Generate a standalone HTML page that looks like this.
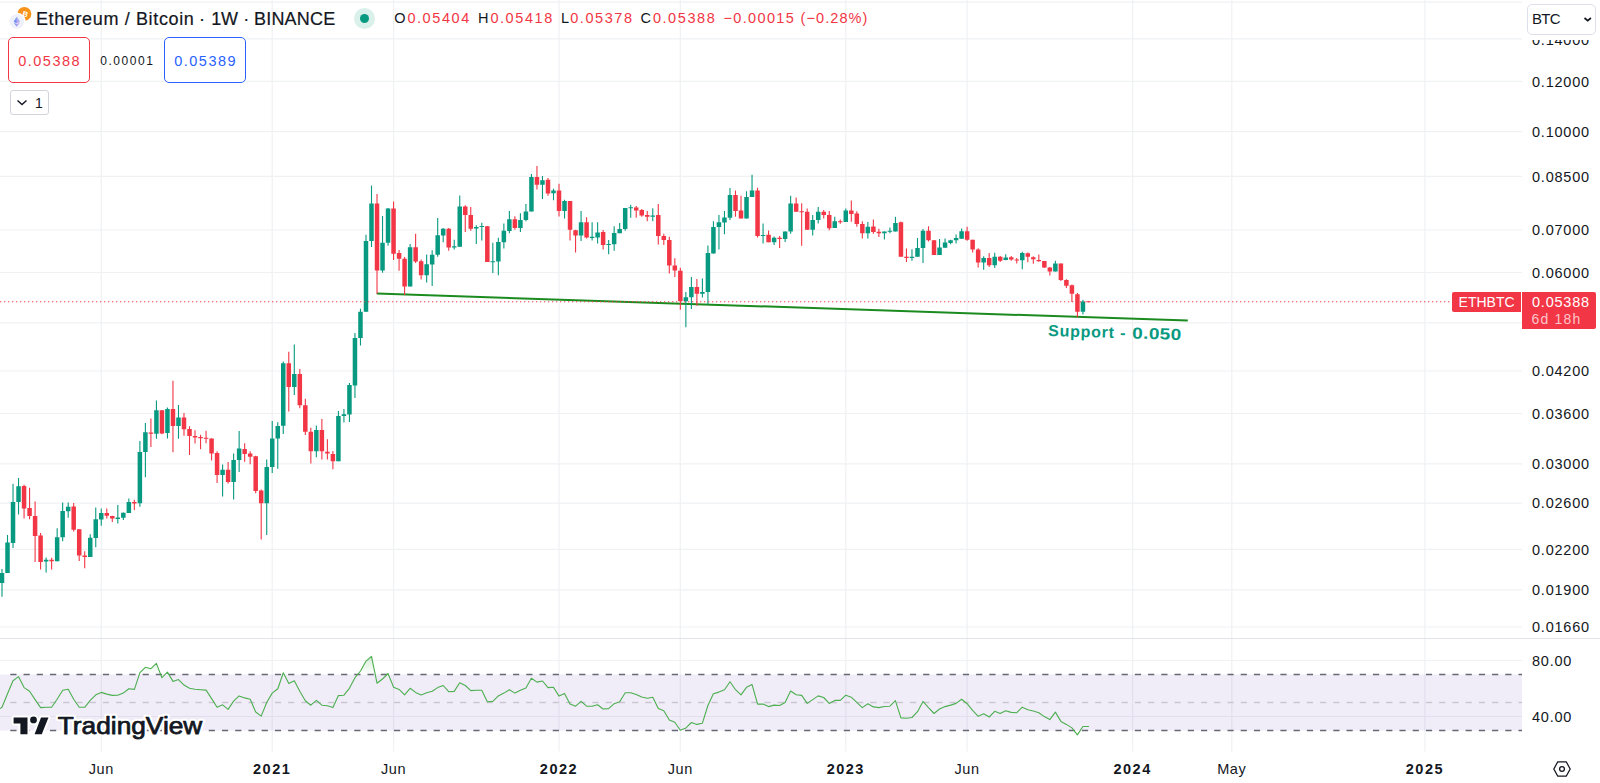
<!DOCTYPE html>
<html lang="en"><head><meta charset="utf-8"><title>ETHBTC chart</title>
<style>
html,body{margin:0;padding:0;background:#fff;}
body{width:1600px;height:783px;position:relative;overflow:hidden;font-family:"Liberation Sans",sans-serif;color:#131722;}
#chart{position:absolute;left:0;top:0;}
.abs{position:absolute;white-space:nowrap;}
.pl{position:absolute;left:1532px;font-size:14.5px;line-height:16px;height:16px;letter-spacing:0.77px;color:#131722;}
.tl{position:absolute;top:761.4px;font-size:14.5px;line-height:16px;height:16px;transform:translateX(-50%);letter-spacing:0.6px;color:#131722;}
.tl.b{font-weight:bold;letter-spacing:1.5px;}
</style></head><body>

<svg id="chart" width="1600" height="783" viewBox="0 0 1600 783">
<path d="M0 2.1H1522 M0 38.8H1522 M0 81.3H1522 M0 131.6H1522 M0 176.4H1522 M0 230.0H1522 M0 272.5H1522 M0 322.8H1522 M0 371.0H1522 M0 413.5H1522 M0 463.8H1522 M0 503.2H1522 M0 549.3H1522 M0 589.8H1522 M0 627.0H1522 M0 660.5H1522 M0 716.5H1522 M101.3 0V751.5 M272.2 0V751.5 M393.6 0V751.5 M559.0 0V751.5 M680.3 0V751.5 M845.8 0V751.5 M967.1 0V751.5 M1132.6 0V751.5 M1231.8 0V751.5 M1424.9 0V751.5" stroke="#f0f1f3" stroke-width="1.2" fill="none"/>
<rect x="0" y="674.5" width="1522" height="56" fill="#7e57c2" fill-opacity="0.115"/>
<path d="M0 638.5H1600" stroke="#e0e3eb" stroke-width="1" fill="none"/>
<path d="M10.3 674.5H1522M10.3 730.5H1522" stroke="#666973" stroke-width="1.35" stroke-dasharray="6.2 7.03" fill="none"/>
<path d="M10.3 702.5H1522" stroke="#c9c6d2" stroke-width="1.5" stroke-dasharray="6.2 7.03" fill="none"/>
<path d="M376.8 293.5L1187.8 320.6" stroke="#1b8a1f" stroke-width="2" fill="none"/>
<path d="M2.00 569.0V596.7M7.51 535.1V573.0M13.03 483.8V547.9M18.54 477.9V514.5M46.12 557.4V572.6M57.15 528.3V561.3M62.66 502.5V541.3M68.18 502.5V517.7M90.24 534.2V557.1M95.75 507.4V547.2M101.27 508.6V525.8M117.81 505.0V523.4M123.33 512.4V519.9M128.84 498.4V512.9M139.88 441.1V506.7M145.39 423.1V477.2M156.42 400.4V438.8M167.45 407.5V438.5M178.48 404.9V438.8M222.60 464.4V496.5M233.63 453.6V499.6M239.14 431.1V471.9M266.72 459.4V534.9M272.23 420.9V473.1M277.75 422.2V468.7M283.26 361.5V434.0M294.29 344.5V394.9M316.35 425.4V457.2M338.41 411.0V461.3M343.93 408.9V422.6M349.44 382.9V421.9M354.96 332.9V398.1M360.47 308.8V345.4M365.99 234.7V311.8M371.50 185.6V246.9M382.53 215.9V272.8M388.05 207.9V245.8M410.11 244.0V286.5M426.65 254.4V282.6M432.17 250.3V286.0M437.69 218.1V256.7M443.20 227.9V242.2M454.23 239.7V249.5M459.74 195.4V246.7M476.29 225.2V244.0M481.80 222.7V240.4M492.83 242.7V273.1M498.35 237.7V275.3M503.86 223.4V248.6M509.38 211.1V233.3M520.41 213.3V232.0M525.92 204.0V221.3M531.44 173.9V211.5M542.47 176.1V199.0M553.50 188.8V200.2M564.53 199.8V218.6M581.07 210.9V240.9M592.11 222.2V240.6M597.62 222.2V243.6M608.65 240.0V254.3M614.16 226.3V250.8M619.68 223.1V233.3M625.19 207.9V230.8M630.71 204.8V217.7M652.77 208.2V221.3M685.86 291.9V327.3M691.38 277.0V308.9M702.40 278.5V297.6M707.92 245.4V304.4M713.43 221.3V253.4M718.95 215.0V249.5M724.46 210.9V234.2M729.98 188.1V219.9M746.52 191.3V218.6M752.04 174.8V197.0M763.07 223.4V243.6M774.10 236.5V244.9M785.13 231.5V241.9M790.64 195.7V233.8M812.70 215.0V235.6M818.22 207.0V223.4M834.76 216.7V227.9M845.79 208.6V222.0M867.85 222.0V238.6M884.40 231.5V239.5M889.91 227.6V233.3M895.43 216.7V231.5M911.97 249.2V260.8M917.49 238.1V256.8M923.00 229.1V263.1M939.55 239.0V255.0M945.06 238.4V247.7M950.58 239.7V244.3M956.09 234.5V243.4M961.61 228.6V238.8M983.67 256.3V269.7M994.70 252.7V267.9M1005.73 254.2V260.2M1022.27 251.8V269.3M1055.37 260.8V271.5M1082.94 299.7V314.4" stroke="#089981" stroke-width="1.1" fill="none"/>
<path d="M24.06 484.7V518.6M29.57 487.7V519.3M35.09 501.5V561.9M40.60 532.9V569.4M51.63 557.8V569.4M73.69 502.9V531.5M79.21 529.3V561.0M84.72 551.2V568.3M106.78 508.6V518.6M112.30 515.8V522.0M134.36 499.7V510.0M150.91 418.6V446.9M161.94 410.2V434.3M172.97 380.7V452.2M183.99 412.9V435.8M189.51 426.3V454.9M195.02 430.2V443.6M200.54 434.7V449.2M206.05 430.8V443.3M211.57 438.5V460.6M217.08 451.3V483.1M228.11 462.0V483.5M244.66 443.3V461.7M250.17 451.3V464.2M255.69 455.8V493.3M261.20 489.4V539.4M288.78 351.7V411.5M299.81 369.0V408.3M305.32 398.7V435.0M310.84 427.7V463.4M321.87 419.1V459.5M327.38 439.3V459.5M332.90 450.9V469.2M377.02 194.0V293.7M393.56 201.6V260.1M399.08 249.9V270.8M404.59 257.0V294.9M415.62 233.8V262.9M421.14 259.4V279.4M448.71 227.9V250.8M465.26 205.2V232.0M470.77 207.0V230.8M487.32 226.1V262.1M514.89 216.3V229.7M536.95 165.9V189.5M547.99 177.9V195.7M559.01 183.8V216.5M570.04 201.1V240.6M575.56 229.7V252.6M586.59 217.2V238.6M603.13 229.9V249.5M636.22 206.1V217.7M641.74 209.1V216.8M647.25 211.1V221.3M658.28 203.9V244.5M663.80 233.8V244.9M669.31 236.8V273.5M674.83 258.3V277.0M680.34 267.7V309.7M696.89 279.0V305.8M735.50 190.4V216.8M741.01 195.7V218.6M757.55 187.7V237.4M768.58 230.6V242.2M779.62 236.0V248.1M796.16 197.5V211.8M801.67 203.3V245.8M807.19 208.6V229.7M823.73 210.0V218.6M829.25 210.9V230.2M840.28 219.5V223.8M851.31 200.6V221.7M856.82 211.3V226.7M862.34 221.3V238.6M873.37 219.5V233.8M878.88 228.8V236.9M900.94 221.4V256.8M906.46 248.6V262.0M928.52 226.3V241.6M934.03 239.9V255.0M967.12 226.8V240.8M972.64 239.7V252.4M978.15 248.3V267.6M989.18 253.1V267.0M1000.21 255.9V262.0M1011.24 255.9V260.8M1016.76 258.1V263.4M1027.79 252.4V262.2M1033.30 256.3V263.8M1038.82 254.5V261.7M1044.34 261.1V267.9M1049.85 267.0V275.4M1060.88 263.4V281.0M1066.39 279.2V287.9M1071.91 284.4V301.9M1077.42 292.9V317.4M1088.45 301.2V301.9" stroke="#f23645" stroke-width="1.1" fill="none"/>
<path d="M-0.25 573.0h4.5V583.0h-4.5zM5.26 542.6h4.5V573.0h-4.5zM10.78 502.0h4.5V543.1h-4.5zM16.29 486.3h4.5V502.0h-4.5zM43.87 559.7h4.5V561.5h-4.5zM54.90 537.2h4.5V561.3h-4.5zM60.41 510.9h4.5V537.2h-4.5zM65.93 506.8h4.5V511.3h-4.5zM87.99 537.7h4.5V557.1h-4.5zM93.50 519.3h4.5V538.1h-4.5zM99.02 513.1h4.5V519.5h-4.5zM115.56 517.6h4.5V519.0h-4.5zM121.08 512.7h4.5V517.7h-4.5zM126.59 502.0h4.5V512.9h-4.5zM137.62 451.9h4.5V503.2h-4.5zM143.14 432.2h4.5V451.9h-4.5zM154.17 410.2h4.5V433.8h-4.5zM165.20 409.0h4.5V432.9h-4.5zM176.23 417.5h4.5V425.9h-4.5zM220.35 469.7h4.5V474.9h-4.5zM231.38 459.9h4.5V482.1h-4.5zM236.89 448.6h4.5V459.9h-4.5zM264.47 467.1h4.5V503.2h-4.5zM269.98 438.5h4.5V467.1h-4.5zM275.50 425.9h4.5V438.5h-4.5zM281.01 363.3h4.5V425.8h-4.5zM292.04 374.0h4.5V386.9h-4.5zM314.10 430.0h4.5V451.3h-4.5zM336.16 416.0h4.5V461.3h-4.5zM341.68 414.2h4.5V416.0h-4.5zM347.19 385.1h4.5V414.6h-4.5zM352.71 337.9h4.5V385.6h-4.5zM358.22 311.8h4.5V337.9h-4.5zM363.74 241.0h4.5V311.8h-4.5zM369.25 203.4h4.5V241.0h-4.5zM380.28 242.7h4.5V270.5h-4.5zM385.80 208.4h4.5V242.7h-4.5zM407.86 247.2h4.5V286.5h-4.5zM424.40 264.2h4.5V275.3h-4.5zM429.92 254.7h4.5V264.6h-4.5zM435.44 235.2h4.5V254.7h-4.5zM440.95 228.8h4.5V235.6h-4.5zM451.98 246.3h4.5V247.6h-4.5zM457.49 206.5h4.5V246.7h-4.5zM474.04 227.0h4.5V228.4h-4.5zM479.55 226.1h4.5V227.1h-4.5zM490.58 261.2h4.5V262.2h-4.5zM496.10 241.9h4.5V261.5h-4.5zM501.61 230.8h4.5V242.2h-4.5zM507.13 219.2h4.5V231.1h-4.5zM518.16 219.9h4.5V227.9h-4.5zM523.67 211.5h4.5V220.0h-4.5zM529.19 177.0h4.5V211.5h-4.5zM540.22 180.2h4.5V184.7h-4.5zM551.25 190.6h4.5V193.2h-4.5zM562.28 201.1h4.5V210.9h-4.5zM578.82 222.2h4.5V235.6h-4.5zM589.86 236.8h4.5V237.9h-4.5zM595.37 232.5h4.5V237.4h-4.5zM606.40 244.0h4.5V245.0h-4.5zM611.91 232.9h4.5V244.2h-4.5zM617.43 229.0h4.5V233.3h-4.5zM622.94 207.9h4.5V229.0h-4.5zM628.46 207.3h4.5V208.3h-4.5zM650.52 215.4h4.5V216.8h-4.5zM683.61 297.2h4.5V301.2h-4.5zM689.12 287.1h4.5V297.2h-4.5zM700.15 291.9h4.5V293.7h-4.5zM705.67 253.1h4.5V291.9h-4.5zM711.18 227.0h4.5V253.4h-4.5zM716.70 222.2h4.5V227.0h-4.5zM722.21 217.6h4.5V222.6h-4.5zM727.73 194.9h4.5V217.7h-4.5zM744.27 197.0h4.5V218.6h-4.5zM749.79 190.4h4.5V197.0h-4.5zM760.82 235.1h4.5V236.1h-4.5zM771.85 237.7h4.5V242.2h-4.5zM782.88 231.5h4.5V239.0h-4.5zM788.39 203.4h4.5V231.5h-4.5zM810.45 219.9h4.5V229.7h-4.5zM815.97 211.8h4.5V219.9h-4.5zM832.51 221.3h4.5V227.9h-4.5zM843.54 210.4h4.5V222.0h-4.5zM865.60 226.7h4.5V233.3h-4.5zM882.15 231.5h4.5V233.3h-4.5zM887.66 230.8h4.5V231.8h-4.5zM893.18 222.9h4.5V231.5h-4.5zM909.72 256.8h4.5V258.1h-4.5zM915.24 247.9h4.5V256.8h-4.5zM920.75 230.7h4.5V247.9h-4.5zM937.30 247.4h4.5V255.0h-4.5zM942.81 242.5h4.5V247.7h-4.5zM948.33 240.2h4.5V242.9h-4.5zM953.84 238.1h4.5V240.2h-4.5zM959.36 231.3h4.5V238.8h-4.5zM981.42 258.1h4.5V262.6h-4.5zM992.45 256.8h4.5V265.2h-4.5zM1003.48 257.6h4.5V259.9h-4.5zM1020.02 253.1h4.5V260.2h-4.5zM1053.12 263.4h4.5V271.5h-4.5zM1080.69 301.5h4.5V311.7h-4.5z" fill="#089981"/>
<path d="M21.81 485.9h4.5V508.6h-4.5zM27.32 507.9h4.5V515.9h-4.5zM32.84 515.9h4.5V536.0h-4.5zM38.35 535.4h4.5V561.9h-4.5zM49.38 559.7h4.5V561.2h-4.5zM71.44 506.5h4.5V529.7h-4.5zM76.96 529.3h4.5V555.6h-4.5zM82.47 555.6h4.5V557.1h-4.5zM104.53 513.1h4.5V515.8h-4.5zM110.05 516.1h4.5V518.6h-4.5zM132.11 502.0h4.5V503.4h-4.5zM148.66 432.6h4.5V433.8h-4.5zM159.69 410.2h4.5V433.4h-4.5zM170.72 409.0h4.5V425.9h-4.5zM181.74 417.5h4.5V429.3h-4.5zM187.26 429.0h4.5V436.1h-4.5zM192.77 436.1h4.5V437.4h-4.5zM198.29 437.0h4.5V438.3h-4.5zM203.80 437.7h4.5V438.8h-4.5zM209.32 438.5h4.5V453.6h-4.5zM214.83 453.1h4.5V475.1h-4.5zM225.86 469.7h4.5V482.1h-4.5zM242.41 449.0h4.5V454.0h-4.5zM247.92 453.6h4.5V456.7h-4.5zM253.44 456.3h4.5V491.0h-4.5zM258.95 490.6h4.5V503.2h-4.5zM286.53 363.3h4.5V386.9h-4.5zM297.56 374.0h4.5V405.3h-4.5zM303.07 405.3h4.5V431.8h-4.5zM308.59 431.8h4.5V451.3h-4.5zM319.62 430.0h4.5V451.3h-4.5zM325.13 451.8h4.5V453.6h-4.5zM330.65 454.0h4.5V461.3h-4.5zM374.77 203.4h4.5V270.5h-4.5zM391.31 208.4h4.5V253.8h-4.5zM396.83 253.1h4.5V258.8h-4.5zM402.34 258.8h4.5V286.5h-4.5zM413.38 247.2h4.5V261.5h-4.5zM418.89 261.2h4.5V275.3h-4.5zM446.46 228.8h4.5V247.6h-4.5zM463.01 206.5h4.5V215.0h-4.5zM468.52 215.0h4.5V228.8h-4.5zM485.07 226.3h4.5V262.1h-4.5zM512.64 219.2h4.5V227.9h-4.5zM534.70 177.0h4.5V184.7h-4.5zM545.74 179.8h4.5V193.6h-4.5zM556.76 190.6h4.5V211.1h-4.5zM567.79 201.1h4.5V229.7h-4.5zM573.31 230.2h4.5V235.6h-4.5zM584.34 222.2h4.5V237.4h-4.5zM600.88 232.0h4.5V244.9h-4.5zM633.97 207.5h4.5V210.6h-4.5zM639.49 210.0h4.5V215.6h-4.5zM645.00 215.0h4.5V216.8h-4.5zM656.03 215.0h4.5V236.1h-4.5zM661.55 236.1h4.5V240.0h-4.5zM667.06 240.0h4.5V265.6h-4.5zM672.58 265.6h4.5V270.4h-4.5zM678.09 270.8h4.5V301.2h-4.5zM694.64 287.1h4.5V293.7h-4.5zM733.25 194.9h4.5V210.9h-4.5zM738.76 210.6h4.5V218.6h-4.5zM755.30 190.4h4.5V236.0h-4.5zM766.33 234.7h4.5V242.2h-4.5zM777.37 237.7h4.5V239.0h-4.5zM793.91 203.4h4.5V211.8h-4.5zM799.42 211.3h4.5V212.3h-4.5zM804.94 211.8h4.5V229.7h-4.5zM821.48 211.8h4.5V215.0h-4.5zM827.00 214.9h4.5V228.3h-4.5zM838.03 221.3h4.5V222.3h-4.5zM849.06 210.4h4.5V214.0h-4.5zM854.57 213.6h4.5V224.0h-4.5zM860.09 224.0h4.5V233.3h-4.5zM871.12 226.5h4.5V232.0h-4.5zM876.63 231.8h4.5V233.3h-4.5zM898.69 222.3h4.5V256.8h-4.5zM904.21 256.8h4.5V258.1h-4.5zM926.27 230.7h4.5V240.2h-4.5zM931.78 240.2h4.5V255.0h-4.5zM964.88 231.3h4.5V239.7h-4.5zM970.39 239.7h4.5V249.5h-4.5zM975.90 249.5h4.5V262.6h-4.5zM986.93 258.1h4.5V265.2h-4.5zM997.96 256.7h4.5V260.8h-4.5zM1008.99 257.2h4.5V259.5h-4.5zM1014.51 259.5h4.5V260.5h-4.5zM1025.54 253.3h4.5V256.8h-4.5zM1031.05 257.2h4.5V259.3h-4.5zM1036.57 259.9h4.5V261.3h-4.5zM1042.09 261.1h4.5V267.6h-4.5zM1047.60 267.4h4.5V271.5h-4.5zM1058.63 263.4h4.5V280.1h-4.5zM1064.14 279.9h4.5V285.8h-4.5zM1069.66 285.3h4.5V293.8h-4.5zM1075.17 294.2h4.5V311.7h-4.5zM1086.20 301.2h4.5V302.2h-4.5z" fill="#f23645"/>
<path d="M0 301.8H1452" stroke="#f23645" stroke-width="1" stroke-dasharray="1.3 2.7" fill="none"/>
<defs><linearGradient id="rg" gradientUnits="userSpaceOnUse" x1="0" y1="648" x2="0" y2="674.5"><stop offset="0" stop-color="#4caf50" stop-opacity="0.34"/><stop offset="1" stop-color="#4caf50" stop-opacity="0"/></linearGradient><clipPath id="rc"><rect x="0" y="640" width="1522" height="34.5"/></clipPath></defs>
<path d="M0.0 708.6L2.0 707.3L7.5 693.8L13.0 680.7L18.5 676.6L24.1 687.6L29.6 691.3L35.1 699.6L40.6 707.6L46.1 707.2L51.6 707.3L57.1 699.3L62.7 690.3L68.2 689.2L73.7 699.3L79.2 707.2L84.7 707.3L90.2 700.3L95.8 694.8L101.3 692.4L106.8 694.1L112.3 695.4L117.8 695.2L123.3 693.1L128.8 688.7L134.4 689.4L139.9 672.7L145.4 667.3L150.9 668.7L156.4 663.4L161.9 677.7L167.4 672.1L173.0 681.4L178.5 679.6L184.0 685.1L189.5 688.3L195.0 689.2L200.5 689.7L206.1 690.1L211.6 698.6L217.1 707.2L222.6 704.8L228.1 709.4L233.6 701.1L239.1 695.9L244.7 697.9L250.2 699.3L255.7 712.0L261.2 716.1L266.7 702.5L272.2 693.1L277.8 688.7L283.3 672.7L288.8 683.4L294.3 680.7L299.8 691.3L305.3 700.7L310.8 705.2L316.4 700.3L321.9 705.2L327.4 705.8L332.9 707.6L338.4 695.6L343.9 695.2L349.4 688.3L355.0 677.7L360.5 671.0L366.0 661.1L371.5 656.3L377.0 683.2L382.5 679.0L388.0 673.5L393.6 687.2L399.1 689.4L404.6 694.8L410.1 688.3L415.6 692.4L421.1 694.9L426.7 692.8L432.2 691.3L437.7 687.6L443.2 685.5L448.7 691.7L454.2 691.4L459.7 682.8L465.3 685.5L470.8 690.6L476.3 690.3L481.8 690.3L487.3 701.7L492.8 701.4L498.3 695.9L503.9 693.1L509.4 689.7L514.9 693.1L520.4 690.3L525.9 687.9L531.4 678.3L537.0 682.1L542.5 681.0L548.0 687.6L553.5 687.2L559.0 696.1L564.5 693.4L570.0 703.9L575.6 706.2L581.1 701.4L586.6 706.2L592.1 706.2L597.6 704.8L603.1 709.0L608.6 708.6L614.2 703.7L619.7 701.7L625.2 692.8L630.7 692.8L636.2 694.5L641.7 697.0L647.3 698.3L652.8 697.2L658.3 708.6L663.8 710.8L669.3 720.0L674.8 722.3L680.3 730.3L685.9 727.9L691.4 722.5L696.9 724.4L702.4 723.2L707.9 705.5L713.4 693.8L718.9 692.1L724.5 689.7L730.0 681.8L735.5 689.7L741.0 694.8L746.5 687.3L752.0 684.4L757.6 704.1L763.1 704.1L768.6 706.6L774.1 705.1L779.6 705.5L785.1 702.5L790.6 691.0L796.2 694.8L801.7 695.4L807.2 703.4L812.7 699.6L818.2 695.9L823.7 697.5L829.2 703.4L834.8 700.4L840.3 700.4L845.8 695.2L851.3 697.2L856.8 702.3L862.3 707.6L867.9 703.7L873.4 706.9L878.9 707.6L884.4 706.5L889.9 706.2L895.4 700.7L900.9 717.9L906.5 718.3L912.0 717.5L917.5 711.7L923.0 701.4L928.5 707.6L934.0 713.5L939.5 709.0L945.1 706.6L950.6 705.1L956.1 703.4L961.6 699.3L967.1 703.7L972.6 710.3L978.2 716.3L983.7 713.8L989.2 717.0L994.7 711.3L1000.2 713.4L1005.7 710.8L1011.2 712.4L1016.8 712.7L1022.3 707.2L1027.8 709.7L1033.3 711.0L1038.8 712.7L1044.3 716.6L1049.8 719.6L1055.4 712.1L1060.9 721.4L1066.4 724.4L1071.9 727.9L1077.4 734.9L1082.9 726.5L1088.5 726.5L1089.0 726.5V674.5H0z" fill="url(#rg)" clip-path="url(#rc)"/>
<path d="M0.0 708.6L2.0 707.3L7.5 693.8L13.0 680.7L18.5 676.6L24.1 687.6L29.6 691.3L35.1 699.6L40.6 707.6L46.1 707.2L51.6 707.3L57.1 699.3L62.7 690.3L68.2 689.2L73.7 699.3L79.2 707.2L84.7 707.3L90.2 700.3L95.8 694.8L101.3 692.4L106.8 694.1L112.3 695.4L117.8 695.2L123.3 693.1L128.8 688.7L134.4 689.4L139.9 672.7L145.4 667.3L150.9 668.7L156.4 663.4L161.9 677.7L167.4 672.1L173.0 681.4L178.5 679.6L184.0 685.1L189.5 688.3L195.0 689.2L200.5 689.7L206.1 690.1L211.6 698.6L217.1 707.2L222.6 704.8L228.1 709.4L233.6 701.1L239.1 695.9L244.7 697.9L250.2 699.3L255.7 712.0L261.2 716.1L266.7 702.5L272.2 693.1L277.8 688.7L283.3 672.7L288.8 683.4L294.3 680.7L299.8 691.3L305.3 700.7L310.8 705.2L316.4 700.3L321.9 705.2L327.4 705.8L332.9 707.6L338.4 695.6L343.9 695.2L349.4 688.3L355.0 677.7L360.5 671.0L366.0 661.1L371.5 656.3L377.0 683.2L382.5 679.0L388.0 673.5L393.6 687.2L399.1 689.4L404.6 694.8L410.1 688.3L415.6 692.4L421.1 694.9L426.7 692.8L432.2 691.3L437.7 687.6L443.2 685.5L448.7 691.7L454.2 691.4L459.7 682.8L465.3 685.5L470.8 690.6L476.3 690.3L481.8 690.3L487.3 701.7L492.8 701.4L498.3 695.9L503.9 693.1L509.4 689.7L514.9 693.1L520.4 690.3L525.9 687.9L531.4 678.3L537.0 682.1L542.5 681.0L548.0 687.6L553.5 687.2L559.0 696.1L564.5 693.4L570.0 703.9L575.6 706.2L581.1 701.4L586.6 706.2L592.1 706.2L597.6 704.8L603.1 709.0L608.6 708.6L614.2 703.7L619.7 701.7L625.2 692.8L630.7 692.8L636.2 694.5L641.7 697.0L647.3 698.3L652.8 697.2L658.3 708.6L663.8 710.8L669.3 720.0L674.8 722.3L680.3 730.3L685.9 727.9L691.4 722.5L696.9 724.4L702.4 723.2L707.9 705.5L713.4 693.8L718.9 692.1L724.5 689.7L730.0 681.8L735.5 689.7L741.0 694.8L746.5 687.3L752.0 684.4L757.6 704.1L763.1 704.1L768.6 706.6L774.1 705.1L779.6 705.5L785.1 702.5L790.6 691.0L796.2 694.8L801.7 695.4L807.2 703.4L812.7 699.6L818.2 695.9L823.7 697.5L829.2 703.4L834.8 700.4L840.3 700.4L845.8 695.2L851.3 697.2L856.8 702.3L862.3 707.6L867.9 703.7L873.4 706.9L878.9 707.6L884.4 706.5L889.9 706.2L895.4 700.7L900.9 717.9L906.5 718.3L912.0 717.5L917.5 711.7L923.0 701.4L928.5 707.6L934.0 713.5L939.5 709.0L945.1 706.6L950.6 705.1L956.1 703.4L961.6 699.3L967.1 703.7L972.6 710.3L978.2 716.3L983.7 713.8L989.2 717.0L994.7 711.3L1000.2 713.4L1005.7 710.8L1011.2 712.4L1016.8 712.7L1022.3 707.2L1027.8 709.7L1033.3 711.0L1038.8 712.7L1044.3 716.6L1049.8 719.6L1055.4 712.1L1060.9 721.4L1066.4 724.4L1071.9 727.9L1077.4 734.9L1082.9 726.5L1088.5 726.5L1089.0 726.5" stroke="#4caf50" stroke-width="1.1" fill="none" stroke-linejoin="round"/>
</svg>
<div class="pl" style="top:31.5px">0.14000</div>
<div class="pl" style="top:73.5px">0.12000</div>
<div class="pl" style="top:123.8px">0.10000</div>
<div class="pl" style="top:168.6px">0.08500</div>
<div class="pl" style="top:222.2px">0.07000</div>
<div class="pl" style="top:264.7px">0.06000</div>
<div class="pl" style="top:363.2px">0.04200</div>
<div class="pl" style="top:405.7px">0.03600</div>
<div class="pl" style="top:456.0px">0.03000</div>
<div class="pl" style="top:495.4px">0.02600</div>
<div class="pl" style="top:541.5px">0.02200</div>
<div class="pl" style="top:582.0px">0.01900</div>
<div class="pl" style="top:619.2px">0.01660</div>
<div class="pl" style="top:652.7px">80.00</div>
<div class="pl" style="top:708.7px">40.00</div>
<div class="tl" style="left:101.3px">Jun</div>
<div class="tl b" style="left:272.2px">2021</div>
<div class="tl" style="left:393.6px">Jun</div>
<div class="tl b" style="left:559.0px">2022</div>
<div class="tl" style="left:680.3px">Jun</div>
<div class="tl b" style="left:845.8px">2023</div>
<div class="tl" style="left:967.1px">Jun</div>
<div class="tl b" style="left:1132.6px">2024</div>
<div class="tl" style="left:1231.8px">May</div>
<div class="tl b" style="left:1424.9px">2025</div>
<!-- header -->
<svg class="abs" style="left:9px;top:5px" width="24" height="26" viewBox="0 0 24 26">
  <circle cx="15.3" cy="8.9" r="7" fill="#f7931a"/>
  <text x="16.2" y="11.6" font-size="7.5" font-weight="bold" fill="#fff" text-anchor="middle" font-family="'Liberation Sans', sans-serif" transform="rotate(14 15.3 8.9)">B</text>
  <circle cx="7.8" cy="16.5" r="9" fill="#fff"/>
  <circle cx="7.8" cy="16.5" r="7.3" fill="#eef0fa"/>
  <path d="M7.8 11.7L4.7 16.7L7.8 18.4z" fill="#6f8df2"/>
  <path d="M7.8 11.7L10.9 16.7L7.8 18.4z" fill="#c3a2f2"/>
  <path d="M7.8 11.7L10.9 16.7L9.4 15.2z" fill="#5fe3e0"/>
  <path d="M4.7 17.4L7.8 21.7V19.2z" fill="#6f8df2"/>
  <path d="M10.9 17.4L7.8 21.7V19.2z" fill="#b79bf0"/>
</svg>
<div id="title" class="abs" style="left:0;top:8px;font-size:18px;line-height:22px;color:#131722;-webkit-text-stroke:0.2px #131722;"><span class="abs" style="left:35.9px;top:0;letter-spacing:0.64px">Ethereum / Bitcoin</span><span class="abs" style="left:198.9px;top:0">·</span><span class="abs" style="left:211.2px;top:0;letter-spacing:-0.3px">1W</span><span class="abs" style="left:243.3px;top:0">·</span><span class="abs" style="left:254px;top:0;letter-spacing:0.2px">BINANCE</span></div>
<div class="abs" style="left:353.5px;top:7.5px;width:21px;height:21px;border-radius:50%;background:#daf0ea;"></div>
<div class="abs" style="left:359.5px;top:13.5px;width:9px;height:9px;border-radius:50%;background:#089981;"></div>
<div id="ohlc" class="abs" style="left:0;top:9px;font-size:14.5px;line-height:18px;"><span class="abs" style="left:394.2px;top:0;color:#131722;letter-spacing:0px">O</span><span class="abs" style="left:407.4px;top:0;color:#f23645;letter-spacing:1.57px">0.05404</span><span class="abs" style="left:478.0px;top:0;color:#131722;letter-spacing:0px">H</span><span class="abs" style="left:490.4px;top:0;color:#f23645;letter-spacing:1.57px">0.05418</span><span class="abs" style="left:561.0px;top:0;color:#131722;letter-spacing:0px">L</span><span class="abs" style="left:570.2px;top:0;color:#f23645;letter-spacing:1.57px">0.05378</span><span class="abs" style="left:640.6px;top:0;color:#131722;letter-spacing:0px">C</span><span class="abs" style="left:652.9px;top:0;color:#f23645;letter-spacing:1.57px">0.05388</span><span class="abs" style="left:723.4px;top:0;color:#f23645;letter-spacing:1.36px">−0.00015</span><span class="abs" style="left:800.6px;top:0;color:#f23645;letter-spacing:1.08px">(−0.28%)</span></div>
<div class="abs" style="left:8.2px;top:37px;width:80.2px;height:43.6px;border:1px solid #f23645;border-radius:5px;background:#fff;"></div>
<div class="abs" id="p1" style="left:18.3px;top:51.6px;font-size:14.5px;line-height:18px;letter-spacing:1.47px;color:#f23645;">0.05388</div>
<div class="abs" id="p2" style="left:100.3px;top:52.5px;font-size:12px;line-height:16px;letter-spacing:1.53px;color:#131722;">0.00001</div>
<div class="abs" style="left:164px;top:37px;width:80px;height:44px;border:1px solid #2962ff;border-radius:5px;background:#fff;"></div>
<div class="abs" id="p3" style="left:174.3px;top:51.6px;font-size:14.5px;line-height:18px;letter-spacing:1.47px;color:#2962ff;">0.05389</div>
<div class="abs" style="left:10px;top:90px;width:37px;height:23px;border:1px solid #d1d4dc;border-radius:3px;background:#fff;"></div>
<svg class="abs" style="left:16px;top:98.7px" width="12" height="8" viewBox="0 0 12 8"><path d="M1.5 1.5L6 5.5L10.5 1.5" stroke="#131722" stroke-width="1.4" fill="none"/></svg>
<div class="abs" id="one" style="left:35px;top:94px;font-size:14px;line-height:18px;color:#131722;">1</div>
<!-- BTC selector -->
<div class="abs" style="left:1523px;top:0;width:77px;height:39.6px;background:#fff;"></div>
<div class="abs" style="left:1527.2px;top:3.8px;width:66.6px;height:29.2px;border:1px solid #dde0ea;border-radius:5px;background:#fff;"></div>
<div class="abs" id="btc" style="left:1532px;top:10.2px;font-size:15px;line-height:18px;letter-spacing:-0.7px;color:#131722;">BTC</div>
<svg class="abs" style="left:1583px;top:16px" width="10" height="8" viewBox="0 0 10 8"><path d="M1.5 2L4.7 4.7L7.9 2" stroke="#131722" stroke-width="1.7" fill="none"/></svg>
<!-- price tag -->
<div class="abs" style="left:1452px;top:292px;width:69px;height:20px;background:#f23645;border-radius:2px 0 0 2px;"></div>
<div class="abs" id="sym" style="left:1458.6px;top:293px;font-size:14px;line-height:18px;letter-spacing:0px;color:#fff;">ETHBTC</div>
<div class="abs" style="left:1522px;top:292px;width:74px;height:37px;background:#f23645;border-radius:0 2px 2px 0;"></div>
<div class="abs" id="lp" style="left:1532px;top:293px;font-size:14.5px;line-height:18px;letter-spacing:0.77px;color:#fff;">0.05388</div>
<div class="abs" id="cd" style="left:1531.5px;top:310px;font-size:14px;line-height:18px;letter-spacing:1.2px;color:#fbc5ca;">6d 18h</div>
<!-- support text -->
<div class="abs" id="sup" style="left:1048px;top:322px;font-size:16px;line-height:18px;font-weight:bold;color:#089981;transform-origin:0 100%;transform:rotate(1.7deg);"><span style="letter-spacing:0.73px">Support</span><span style="letter-spacing:1px;white-space:pre"> - </span><span style="display:inline-block;letter-spacing:0.3px;transform:scaleX(1.19);transform-origin:0 50%">0.050</span></div>
<!-- logo -->
<svg class="abs" style="left:0;top:700px" width="220" height="50" viewBox="0 0 220 50">
  <g stroke="#fff" stroke-width="4" stroke-linejoin="round" fill="#fff"><path d="M13.6 17.4H27.5V34.25H20.4V23.4H13.6z"/><circle cx="33.5" cy="19.9" r="3.4"/><path d="M34.6 34.25L41 17.4H48.5L41.75 34.25z"/><text x="57.8" y="34.25" font-size="23" font-family="'Liberation Sans', sans-serif" textLength="144.5" lengthAdjust="spacingAndGlyphs" stroke-width="4.6">TradingView</text></g>
  <g fill="#131722"><path d="M13.6 17.4H27.5V34.25H20.4V23.4H13.6z"/><circle cx="33.5" cy="19.9" r="3.4"/><path d="M34.6 34.25L41 17.4H48.5L41.75 34.25z"/><text x="57.8" y="34.25" font-size="23" font-family="'Liberation Sans', sans-serif" textLength="144.5" lengthAdjust="spacingAndGlyphs" stroke="#131722" stroke-width="0.75" stroke-linejoin="round">TradingView</text></g>
</svg>
<!-- settings icon -->
<svg class="abs" style="left:1552px;top:760px" width="20" height="18" viewBox="0 0 20 18"><path d="M5.8 1.8H14.2L18.2 9L14.2 16.2H5.8L1.8 9z" stroke="#131722" stroke-width="1.3" fill="none" stroke-linejoin="round"/><circle cx="10" cy="9" r="2.4" stroke="#131722" stroke-width="1.3" fill="none"/></svg>

</body></html>
